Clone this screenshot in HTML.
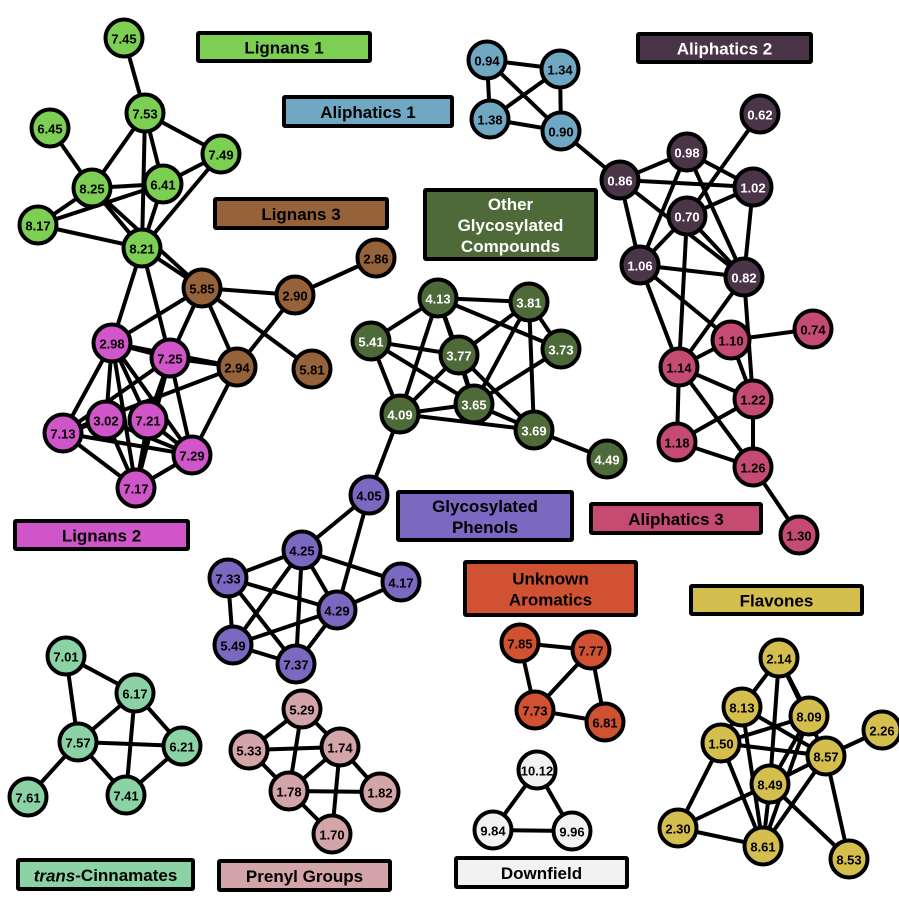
<!DOCTYPE html>
<html><head><meta charset="utf-8">
<style>
body{margin:0;background:#fff;}
svg{display:block;font-family:"Liberation Sans",Arial,sans-serif;}
.nl{font-weight:bold;font-size:13px;text-anchor:middle;dominant-baseline:central;}
.gl{font-weight:bold;font-size:17px;text-anchor:middle;dominant-baseline:central;}
</style></head>
<body>
<svg id="chart" width="899" height="899" viewBox="0 0 899 899" xmlns="http://www.w3.org/2000/svg">
<g id="edges"></g>
<g id="nodes"></g>
<g id="labels"></g>
</svg>
<script>
const groupNames=["Lignans 1","Lignans 3","Lignans 2","Other Glycosylated Compounds","Glycosylated Phenols","trans-Cinnamates","Prenyl Groups","Aliphatics 1","Aliphatics 2","Aliphatics 3","Unknown Aromatics","Downfield","Flavones"];
const groupColors=["#7ccf52","#96623a","#d055c8","#4e6a38","#7b68c0","#8bd3a5","#d3a4a8","#70a8c4","#4a3548","#c64b72","#d05232","#f2f2f2","#d4be4d"];
const groupTextColors=["#000","#000","#000","#fff","#000","#000","#000","#000","#fff","#000","#000","#000","#000"];
const nodeLabels=["7.45","7.53","6.45","7.49","8.25","6.41","8.17","8.21",
"5.85","2.90","2.86","2.94","5.81",
"2.98","7.25","7.13","3.02","7.21","7.29","7.17",
"4.13","3.81","5.41","3.77","3.73","3.65","4.09","3.69","4.49",
"4.05","4.25","7.33","4.17","4.29","5.49","7.37",
"7.01","6.17","7.57","6.21","7.61","7.41",
"5.29","5.33","1.74","1.78","1.82","1.70",
"0.94","1.34","1.38","0.90",
"0.62","0.98","0.86","1.02","0.70","1.06","0.82",
"0.74","1.10","1.14","1.22","1.18","1.26","1.30",
"7.85","7.77","7.73","6.81",
"10.12","9.84","9.96",
"2.14","8.13","8.09","2.26","1.50","8.57","8.49","2.30","8.61","8.53"];
const nodeGroups=[0,0,0,0,0,0,0,0, 1,1,1,1,1, 2,2,2,2,2,2,2, 3,3,3,3,3,3,3,3,3, 4,4,4,4,4,4,4, 5,5,5,5,5,5, 6,6,6,6,6,6, 7,7,7,7, 8,8,8,8,8,8,8, 9,9,9,9,9,9,9, 10,10,10,10, 11,11,11, 12,12,12,12,12,12,12,12,12,12];
const nodeX=[124,145,50,221,92,163,38,142, 202,295,376,237,312, 112,170,63,106,148,192,136, 438,529,371,459,561,474,400,534,607, 369,302,228,401,337,233,296, 66,135,78,182,28,126, 302,249,340,289,380,332, 487,560,490,561, 760,687,620,753,687,640,744, 813,731,679,753,677,753,799, 520,591,535,605, 537,493,572, 779,742,809,882,721,826,770,678,763,849];
const nodeY=[38,113,128,154,188,184,225,248, 288,295,258,367,369, 343,358,433,420,420,455,488, 298,302,341,355,349,404,414,430,459, 495,550,578,582,610,645,664, 656,693,742,746,797,795, 709,750,747,791,792,834, 60,69,119,131, 114,152,180,187,216,265,277, 329,340,367,399,442,467,535, 643,650,710,722, 770,830,831, 658,707,716,730,743,756,784,828,846,859];
const edgeList=[
["7.45","7.53"],["7.53","7.49"],["7.53","8.25"],["7.53","6.41"],["7.53","8.21"],["6.45","8.25"],["8.25","6.41"],["8.25","8.17"],["8.25","8.21"],["8.17","6.41"],["8.17","8.21"],["6.41","8.21"],["7.49","6.41"],["7.49","8.21"],["8.21","5.85"],["8.25","5.85"],["8.21","2.98"],["8.21","7.25"],
["5.85","2.90"],["2.90","2.86"],["5.85","2.94"],["5.85","5.81"],["2.90","2.94"],["5.85","2.98"],["5.85","7.25"],["2.94","7.25"],["2.98","2.94"],["2.94","7.13"],["2.94","7.29"],
["2.98","7.13"],["2.98","3.02"],["2.98","7.21"],["2.98","7.17"],["2.98","7.29"],["2.98","7.25"],["7.25","7.13"],["7.25","7.21"],["7.25","7.17"],["7.25","7.29"],["7.13","3.02"],["7.13","7.17"],["7.13","7.29"],["3.02","7.17"],["3.02","7.29"],["7.21","7.17"],["7.21","7.29"],["7.17","7.29"],
["4.13","3.81"],["4.13","5.41"],["4.13","3.77"],["4.13","4.09"],["4.13","3.73"],["4.13","3.65"],["5.41","3.77"],["5.41","4.09"],["5.41","3.65"],["3.81","3.77"],["3.81","3.65"],["3.81","3.73"],["3.81","3.69"],["3.77","4.09"],["3.77","3.69"],["3.77","3.65"],["3.73","3.65"],["4.09","3.65"],["4.09","3.69"],["3.65","3.69"],["3.69","4.49"],["4.09","4.05"],
["4.05","4.25"],["4.05","4.29"],["4.25","7.33"],["4.25","4.17"],["4.25","4.29"],["4.25","5.49"],["4.25","7.37"],["7.33","4.29"],["7.33","5.49"],["7.33","7.37"],["4.17","4.29"],["4.29","5.49"],["4.29","7.37"],["5.49","7.37"],
["7.01","6.17"],["7.01","7.57"],["6.17","7.57"],["6.17","7.41"],["6.17","6.21"],["7.57","6.21"],["7.57","7.61"],["7.57","7.41"],["7.41","6.21"],
["5.29","5.33"],["5.29","1.78"],["5.29","1.74"],["5.33","1.74"],["5.33","1.78"],["1.74","1.78"],["1.74","1.82"],["1.74","1.70"],["1.78","1.82"],["1.78","1.70"],
["0.94","1.34"],["0.94","1.38"],["0.94","0.90"],["1.34","1.38"],["1.34","0.90"],["1.38","0.90"],["0.90","0.86"],
["0.98","0.86"],["0.98","1.06"],["0.98","1.02"],["0.98","0.82"],["0.86","1.02"],["0.86","1.06"],["0.86","0.82"],["0.62","0.70"],["0.70","1.02"],["0.70","1.06"],["0.70","0.82"],["0.70","1.14"],["1.02","0.82"],["1.06","0.82"],["1.06","1.14"],["1.06","1.10"],["0.82","1.14"],["0.82","1.22"],
["1.10","0.74"],["1.10","1.14"],["1.10","1.22"],["1.14","1.22"],["1.14","1.18"],["1.14","1.26"],["1.22","1.18"],["1.22","1.26"],["1.18","1.26"],["1.26","1.30"],
["7.85","7.77"],["7.85","7.73"],["7.77","7.73"],["7.77","6.81"],["7.73","6.81"],
["10.12","9.84"],["10.12","9.96"],["9.84","9.96"],
["2.14","8.13"],["2.14","8.49"],["2.14","8.09"],["2.14","8.57"],["8.13","8.61"],["8.13","8.57"],["8.13","1.50"],["8.09","1.50"],["8.09","8.49"],["8.09","8.61"],["1.50","8.57"],["1.50","2.30"],["1.50","8.61"],["8.57","2.26"],["8.57","8.49"],["8.57","8.61"],["8.57","8.53"],["8.49","2.30"],["8.49","8.61"],["8.49","8.53"],["2.30","8.61"]
];
const labelGroup=[0,7,1,3,8,2,4,9,10,12,5,6,11];
const labelX=[198,284,215,425,638,15,398,591,465,691,18,219,456];
const labelY=[33,97,199,190,34,521,492,504,562,586,860,861,858];
const labelW=[172,168,172,171,173,173,174,170,171,171,175,171,171];
const labelH=[28,29,29,69,28,28,48,29,53,28,29,29,29];
const labelLines=[["Lignans 1"],["Aliphatics 1"],["Lignans 3"],["Other","Glycosylated","Compounds"],["Aliphatics 2"],["Lignans 2"],["Glycosylated","Phenols"],["Aliphatics 3"],["Unknown","Aromatics"],["Flavones"],["trans-Cinnamates"],["Prenyl Groups"],["Downfield"]];

const NS="http://www.w3.org/2000/svg";
const R=18.5;
function px(i){return nodeX[i];}
function py(i){return nodeY[i];}
const eg=document.getElementById('edges'), ng=document.getElementById('nodes'), lg=document.getElementById('labels');
edgeList.forEach(function(e){
  const a=nodeLabels.indexOf(e[0]), b=nodeLabels.indexOf(e[1]);
  const l=document.createElementNS(NS,'line');
  l.setAttribute('x1',px(a));l.setAttribute('y1',py(a));l.setAttribute('x2',px(b));l.setAttribute('y2',py(b));
  l.setAttribute('stroke','#000');l.setAttribute('stroke-width','4');
  
  
  eg.appendChild(l);
});
nodeLabels.forEach(function(t,i){
  const g=document.createElementNS(NS,'g');
  
  
  const c=document.createElementNS(NS,'circle');
  c.setAttribute('cx',px(i));c.setAttribute('cy',py(i));c.setAttribute('r',R);
  c.setAttribute('fill',groupColors[nodeGroups[i]]);c.setAttribute('stroke','#000');c.setAttribute('stroke-width','4');
  const tx=document.createElementNS(NS,'text');
  tx.setAttribute('x',px(i));tx.setAttribute('y',py(i)+1);tx.setAttribute('class','nl');
  tx.setAttribute('fill',groupTextColors[nodeGroups[i]]);
  tx.textContent=t;
  g.appendChild(c);g.appendChild(tx);ng.appendChild(g);
});
labelGroup.forEach(function(gi,k){
  const g=document.createElementNS(NS,'g');
  
  
  const r=document.createElementNS(NS,'rect');
  r.setAttribute('x',labelX[k]);r.setAttribute('y',labelY[k]);r.setAttribute('width',labelW[k]);r.setAttribute('height',labelH[k]);
  r.setAttribute('fill',groupColors[gi]);r.setAttribute('stroke','#000');r.setAttribute('stroke-width','4');r.setAttribute('rx','1');
  g.appendChild(r);
  const lines=labelLines[k], n=lines.length, lh=21;
  const cy=labelY[k]+labelH[k]/2;
  lines.forEach(function(s,j){
    const t=document.createElementNS(NS,'text');
    t.setAttribute('x',labelX[k]+labelW[k]/2);
    t.setAttribute('y',cy+(j-(n-1)/2)*lh+1);
    t.setAttribute('class','gl');
    t.setAttribute('fill',groupTextColors[gi]);
    if(s==='trans-Cinnamates'){
      const it=document.createElementNS(NS,'tspan');it.setAttribute('font-style','italic');it.textContent='trans';
      t.appendChild(it);t.appendChild(document.createTextNode('-Cinnamates'));
    } else t.textContent=s;
    g.appendChild(t);
  });
  lg.appendChild(g);
});
</script>
</body></html>
